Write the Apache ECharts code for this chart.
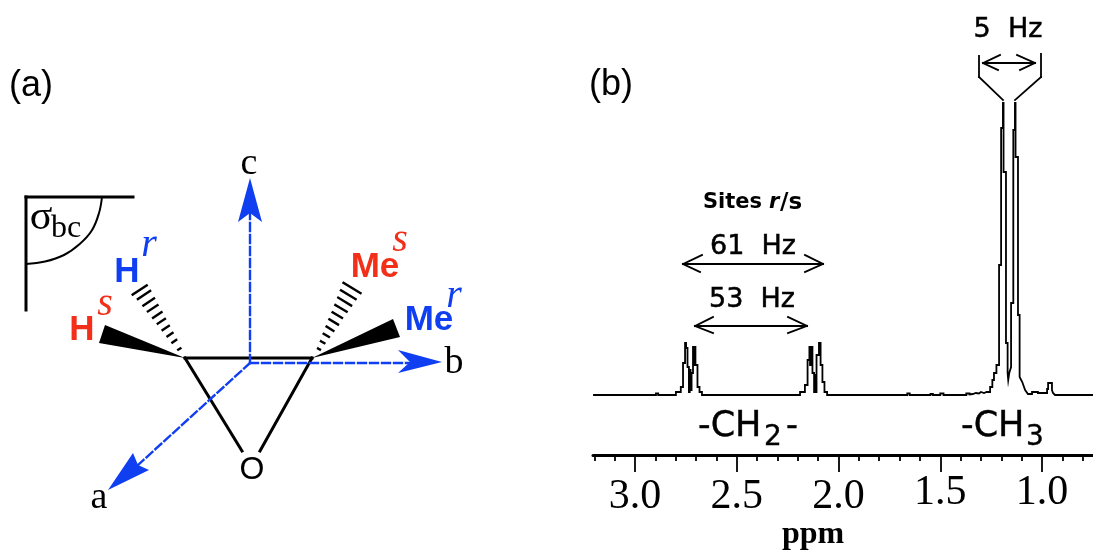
<!DOCTYPE html>
<html>
<head>
<meta charset="utf-8">
<style>html,body{margin:0;padding:0;background:#fff}#c{width:1093px;height:550px}</style>
<script src="https://cdn.jsdelivr.net/npm/echarts@6/dist/echarts.min.js"></script>
</head>
<body>
<div id="c"></div>
<script>
// ---- Spectrum: [ppm, intensity] ----
const baselineA = [[3.206,0],[2.897,0],[2.897,1.5],[2.886,1.5],[2.886,0]];
const doubletA = [[2.799,0],[2.799,3],[2.775,3],[2.775,8],[2.764,8],[2.764,32],[2.754,32],[2.754,52],[2.749,52],[2.749,47],[2.742,47],[2.742,28],[2.735,28],[2.735,3],[2.731,3],[2.731,25],[2.727,25],[2.727,5],[2.722,5],[2.722,22],[2.715,22],[2.715,48],[2.710,48],[2.710,30],[2.707,30],[2.707,48],[2.703,48],[2.703,30],[2.693,30],[2.693,8],[2.683,8],[2.683,3],[2.671,3],[2.671,0]];
const doubletB = [[2.189,0],[2.189,3],[2.165,3],[2.165,10],[2.152,10],[2.152,35],[2.143,35],[2.143,48],[2.140,48],[2.140,30],[2.135,30],[2.135,48],[2.128,48],[2.128,22],[2.120,22],[2.120,3],[2.115,3],[2.115,20],[2.112,20],[2.112,3],[2.108,3],[2.108,40],[2.096,40],[2.096,52],[2.088,52],[2.088,30],[2.079,30],[2.079,13],[2.069,13],[2.069,3],[2.056,3],[2.056,0]];
const smallBumps = [[1.662,0],[1.662,1.5],[1.650,1.5],[1.650,0],[1.548,0],[1.548,1],[1.536,1],[1.536,0],[1.500,0],[1.500,1.5],[1.484,1.5],[1.484,0],[1.372,0],[1.372,1.5],[1.356,1.5],[1.356,0.5],[1.340,1],[1.325,2],[1.310,1.5],[1.300,3],[1.285,2]];
const methyl = [[1.272,3],[1.255,3],[1.255,8],[1.244,8],[1.244,15],[1.236,15],[1.236,22],[1.224,22],[1.224,30],[1.211,30],[1.211,130],[1.201,130],[1.201,267],[1.192,267],[1.192,292],[1.189,292],[1.189,223],[1.177,223],[1.177,52],[1.169,52],[1.169,22],[1.166,15],[1.161,22],[1.152,28],[1.152,92],[1.141,92],[1.141,265],[1.133,265],[1.133,292],[1.130,292],[1.130,238],[1.118,238],[1.118,80],[1.110,80],[1.110,18],[1.097,13],[1.083,5],[1.069,1],[1.049,1],[1.049,3],[1.020,3],[1.020,2],[0.975,2],[0.975,6],[0.970,6],[0.970,12],[0.951,12],[0.951,5],[0.946,2],[0.936,0],[0.749,0]];
const spectrum = baselineA.concat(doubletA, doubletB, smallBumps, methyl);

const majorTicks = [3.0,2.5,2.0,1.5,1.0];
const minorTicks = [3.2,3.1,2.9,2.8,2.7,2.6,2.4,2.3,2.2,2.1,1.9,1.8,1.7,1.6,1.4,1.3,1.2,1.1,0.9,0.8];
const tickLabels = ['3.0','2.5','2.0','1.5','1.0'];

// ---- Scheme, in the scheme's own coordinates ----
const ringBonds = [[185,358,312,358],[185,358,242,451],[312,358,260,451]];
const cornerLines = [[26,310,26,197],[26,197,133,197]];
const cornerArc = [[102,197],[99,213],[91.8,230.5],[79.7,244],[64,255],[45,261.5],[26,264]];
const hashHr = [[178.2,349.7,180.4,348.3],[172.4,342.6,176.2,340],[167.5,336.3,172.5,333],[162.6,330,168.8,326],[157.7,323.7,164.9,318.9],[153.1,317.8,161.5,312.2],[147.9,311.4,157.5,305.2],[143.4,305.5,154,298.5],[137.9,299,150.1,291],[132.7,294.6,146.7,285.4]];
const hashMes = [[318.1,348.5,319.9,349.5],[321,341.2,324.4,343.2],[323.7,333.9,328.9,336.9],[326.6,326.6,333.4,330.8],[329.4,319.3,338,324.5],[332.6,312.3,342,317.9],[335.4,305,346.6,311.6],[338.3,297.7,351.1,305.5],[341,290.4,355.6,299.2],[343.5,282.9,360.5,293.1]];
const wedges = [[185,358,105,325,99,343,185,358],[312,358,393,319,400,337,312,358]];
const axisShafts = [[250,363,250,213],[250,363,410,363],[250,363,138,465]];
const arrowHeads = [[250,178,262,222,250,213,238,222],[442,362,398,373,410,362,398,350],[108,490,149,470,138,465,133,453]];
const annotationLines = [
  [683,264,823,264],[683,264,702,255],[683,264,700,272],[823,264,805,255],[823,264,805,272],
  [695,326,807,326],[695,326,713,317],[695,326,713,333],[807,326,788,317],[807,326,788,333],
  [983,63,1035,63],[983,63,1000,55],[983,63,998,70],[1035,63,1017,55],[1035,63,1020,70],
  [979,56,979,77],[979,77,1003,100],[1041,54,1041,77],[1041,77,1015,100]
];

const BLUE = '#0f3ff0', RED = '#f2301a';
const SANS = '"Liberation Sans"', SERIF = '"Liberation Serif"', DJ = '"DejaVu Sans"';
const t = (x,y,text,font,fill,align,heavy) => ({type:'text',silent:true,style:{x,y,text,font,fill:fill||'#000',align:align||'center',verticalAlign:'middle',stroke:heavy?'#000':null,lineWidth:heavy||0}});

const labels = [
  t(31,86,'(a)','36px '+SANS), t(611,85,'(b)','36px '+SANS),
  t(249,164,'c','38px '+SERIF), t(454,363,'b','38px '+SERIF), t(99,498,'a','38px '+SERIF),
  t(41,218,'σ','42px '+SERIF), t(66,229,'bc','32px '+SERIF),
  t(252,470,'O','32px '+SANS),
  t(127,272,'H','bold 35px '+SANS,BLUE), t(149,245,'r','italic 40px '+SERIF,BLUE),
  t(82,330,'H','bold 35px '+SANS,RED), t(105,304,'s','italic 40px '+SERIF,RED),
  t(375,267,'Me','bold 35px '+SANS,RED), t(400,240,'s','italic 40px '+SERIF,RED),
  t(429,320,'Me','bold 35px '+SANS,BLUE), t(454,296,'r','italic 40px '+SERIF,BLUE),
  t(1008,30,'5\u00a0\u00a0Hz','27px '+DJ,'#000','center',0.5), t(753,247,'61\u00a0\u00a0Hz','27px '+DJ,'#000','center',0.5), t(752,300,'53\u00a0\u00a0Hz','27px '+DJ,'#000','center',0.5),
  t(703,203,'Sites','bold 21px '+DJ,'#000','left'),
  t(769,203,'r','italic bold 21px '+DJ,'#000','left'),
  t(780,203,'/s','bold 23px '+DJ,'#000','left'),
  t(698,427,'-CH','35px '+DJ,'#000','left',0.4), t(773,438,'2','28px '+DJ,'#000','center',0.4), t(786,427,'-','33px '+DJ,'#000','left',0.4),
  t(961,427,'-CH','35px '+DJ,'#000','left',0.4), t(1035,438,'3','28px '+DJ,'#000','center',0.4),
  t(813,535,'ppm','bold 32px '+SERIF)
];

function segSeries(data, color, width, dash){
  return {type:'custom',xAxisIndex:2,yAxisIndex:1,clip:false,silent:true,
    encode:{x:[0,2],y:[1,3]},data,
    renderItem:(p,api)=>{
      const a=api.coord([api.value(0),api.value(1)]), b=api.coord([api.value(2),api.value(3)]);
      return {type:'line',shape:{x1:a[0],y1:a[1],x2:b[0],y2:b[1]},style:{stroke:color,lineWidth:width,lineDash:dash||null,lineCap:'square',fill:null}};
    }};
}
function polySeries(data, color){
  return {type:'custom',xAxisIndex:2,yAxisIndex:1,clip:false,silent:true,
    encode:{x:[0,2,4,6],y:[1,3,5,7]},data,
    renderItem:(p,api)=>{
      const pts=[0,2,4,6].map(i=>api.coord([api.value(i),api.value(i+1)]));
      return {type:'polygon',shape:{points:pts},style:{fill:color,stroke:null}};
    }};
}

const chart = echarts.init(document.getElementById('c'),null,{renderer:'canvas'});
const seriesLabel = v => (v < 1.75 ? '{up|' : '{low|') + tickLabels[majorTicks.indexOf(v)] + '}';
const tickFont = {fontFamily:'Liberation Serif',fontSize:42,color:'#000'};
chart.setOption({
  animation:false,
  backgroundColor:'#fff',
  grid:[
    {left:593,top:95,width:500,height:360,containLabel:false},
    {left:0,top:0,width:1093,height:550}
  ],
  xAxis:[
    {gridIndex:0,type:'value',inverse:true,min:0.7494,max:3.2064,position:'bottom',
      axisLine:{show:true,onZero:false,lineStyle:{color:'#000',width:3}},
      axisTick:{show:true,length:17,lineStyle:{color:'#000',width:1.8},customValues:majorTicks},
      axisLabel:{show:true,margin:17,color:'#000',fontFamily:'Liberation Serif',fontSize:42,
        customValues:majorTicks,formatter:seriesLabel,
        rich:{up:Object.assign({},tickFont),low:Object.assign({padding:[4,0,0,0]},tickFont)}},
      splitLine:{show:false}},
    {gridIndex:0,type:'value',inverse:true,min:0.7494,max:3.2064,position:'bottom',
      axisLine:{show:false,onZero:false},
      axisTick:{show:true,length:6,lineStyle:{color:'#000',width:1.8},customValues:minorTicks},
      axisLabel:{show:false},splitLine:{show:false}},
    {gridIndex:1,type:'value',min:0,max:1093,show:false}
  ],
  yAxis:[
    {gridIndex:0,type:'value',min:-60,max:300,show:false},
    {gridIndex:1,type:'value',min:0,max:550,inverse:true,show:false}
  ],
  series:[
    {type:'custom',xAxisIndex:0,yAxisIndex:0,data:spectrum,encode:{x:0,y:1},clip:false,silent:true,
      renderItem:(p,api)=>{
        if(p.dataIndex!==0) return null;
        return {type:'polyline',shape:{points:spectrum.map(d=>api.coord(d))},
          style:{stroke:'#000',lineWidth:1.8,fill:null,lineJoin:'miter'}};
      }},
    segSeries(annotationLines,'#000',1.8),
    segSeries(cornerLines,'#000',3),
    {type:'line',xAxisIndex:2,yAxisIndex:1,data:cornerArc,smooth:0.4,showSymbol:false,symbol:'none',
      silent:true,lineStyle:{color:'#000',width:2}},
    segSeries(ringBonds,'#000',3),
    segSeries(hashHr,'#000',2.4),
    segSeries(hashMes,'#000',2.4),
    polySeries(wedges,'#000'),
    segSeries(axisShafts,BLUE,2.4,[8,4]),
    polySeries(arrowHeads,BLUE)
  ],
  graphic:{elements:labels}
});
</script>
</body>
</html>
